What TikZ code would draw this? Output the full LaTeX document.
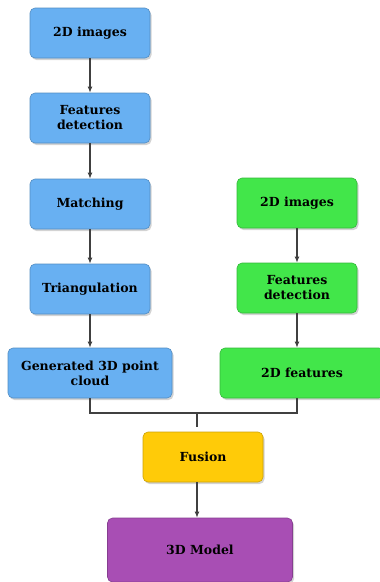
\documentclass[tikz,border=0pt]{standalone}
\usepackage{fontspec}
\setmainfont{DejaVu Serif}
\usetikzlibrary{shadows,arrows.meta}
\definecolor{boxblue}{RGB}{104,176,242}
\definecolor{boxgreen}{RGB}{66,230,74}
\definecolor{boxyellow}{RGB}{255,203,8}
\definecolor{boxpurple}{RGB}{168,78,180}
\definecolor{linegray}{RGB}{64,64,64}
\tikzset{
  stage/.style={draw=#1!80!black, fill=#1, rounded corners=5pt, line width=0.6pt,
    minimum width=120pt, minimum height=50pt, align=center,
    font=\fontsize{12.5}{15}\selectfont\bfseries,
    drop shadow={shadow xshift=1.5pt, shadow yshift=-2pt, opacity=0.35}},
  flow/.style={draw=linegray, line width=1.4pt, -{Latex[length=6pt,width=5pt]}},
  link/.style={draw=linegray, line width=1.4pt}
}
\begin{document}
\begin{tikzpicture}[x=1pt,y=-1pt]
\useasboundingbox (0,0) rectangle (380,582);
% left branch
\node[stage=boxblue] (img) at (90,33) {2D images};
\node[stage=boxblue] (feat) at (90,118) {Features\\detection};
\node[stage=boxblue] (match) at (90,204) {Matching};
\node[stage=boxblue] (tri) at (90,289) {Triangulation};
\node[stage=boxblue, minimum width=164pt] (cloud) at (90,373) {Generated 3D point\\cloud};
% right branch
\node[stage=boxgreen] (img2) at (297,203) {2D images};
\node[stage=boxgreen] (feat2) at (297,288) {Features\\detection};
\node[stage=boxgreen, minimum width=164pt] (feat2d) at (302,373) {2D features};
% merge
\node[stage=boxyellow] (fusion) at (203,457) {Fusion};
\node[stage=boxpurple, minimum width=185pt, minimum height=64pt] (model) at (200,550) {3D Model};
\coordinate (join) at (197,413);
\draw[flow] (img) -- (feat);
\draw[flow] (feat) -- (match);
\draw[flow] (match) -- (tri);
\draw[flow] (tri) -- (cloud);
\draw[flow] (img2) -- (feat2);
\draw[flow] (feat2.south) -- (feat2.south |- feat2d.north);
\draw[link] (cloud.south) |- (join) -| (feat2.south |- feat2d.south);
\draw[link] (join) -- ++(0,14);
\draw[flow] (fusion.south -| join) -- (join |- model.north);
\end{tikzpicture}
\end{document}
